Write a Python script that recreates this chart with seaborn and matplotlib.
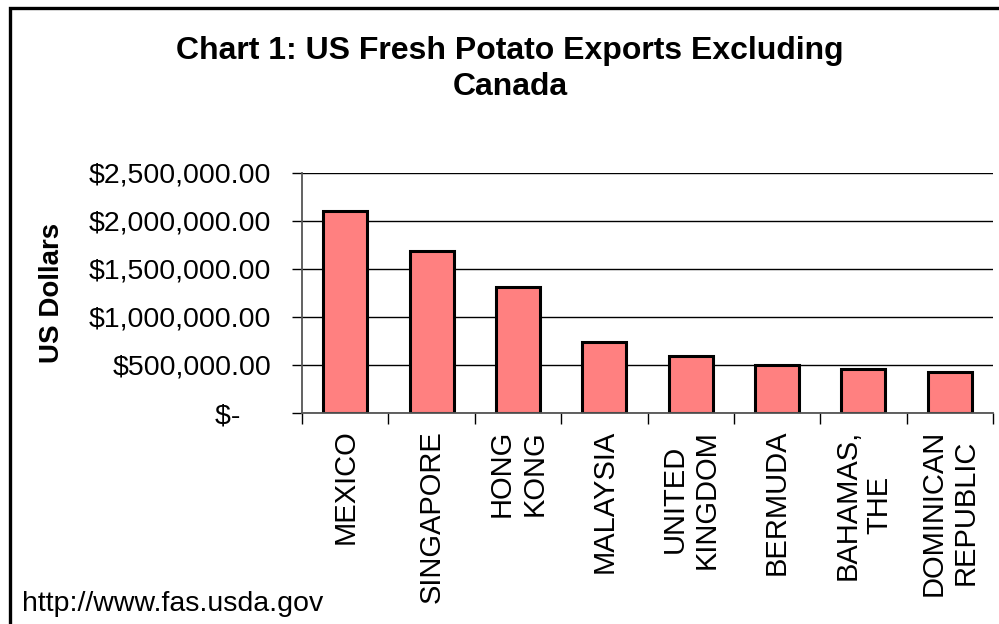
import matplotlib
matplotlib.use("Agg")
import matplotlib.pyplot as plt
import seaborn as sns
import pandas as pd
from matplotlib.patches import Rectangle

countries = ["MEXICO", "SINGAPORE", "HONG\nKONG", "MALAYSIA", "UNITED\nKINGDOM",
             "BERMUDA", "BAHAMAS,\nTHE", "DOMINICAN\nREPUBLIC"]
values = [2100000, 1686000, 1307000, 741000, 593000, 500000, 462000, 428000]
ytick_values = [0, 500000, 1000000, 1500000, 2000000, 2500000]
ytick_labels = ["$-    ", "$500,000.00", "$1,000,000.00", "$1,500,000.00",
                "$2,000,000.00", "$2,500,000.00"]
title = "Chart 1: US Fresh Potato Exports Excluding\nCanada"
ylabel = "US Dollars"
source = "http://www.fas.usda.gov"

sns.set_theme(style="white")
plt.rcParams['font.family'] = ['Liberation Sans', 'DejaVu Sans']
plt.rcParams['text.color'] = 'black'
plt.rcParams['xtick.color'] = 'black'
plt.rcParams['ytick.color'] = 'black'
plt.rcParams['xtick.labelcolor'] = 'black'
plt.rcParams['ytick.labelcolor'] = 'black'

W, H = 999, 624
fig = plt.figure(figsize=(W / 100, H / 100), dpi=100)
L, R, T, B = 302, 993, 172.5, 413
ax = fig.add_axes([L / W, 1 - B / H, (R - L) / W, (B - T) / H])

df = pd.DataFrame({"country": countries, "value": values})
sns.barplot(data=df, x="country", y="value", ax=ax, color="#FF8080",
            saturation=1, width=0.51, edgecolor="black", linewidth=2.2)

ax.set_xlim(-0.5, len(countries) - 0.5)
ax.set_ylim(0, 2500000)
ax.set_yticks(ytick_values)
ax.set_yticklabels(ytick_labels, fontsize=20.5)
ax.yaxis.grid(True, color="black", linewidth=1)
ax.set_axisbelow(True)
ax.set_xlabel("")
ax.set_ylabel("")

ax.set_xticks(range(len(countries)))
ax.set_xticklabels(countries, rotation=90, fontsize=21, ha="center", va="top",
                   multialignment="center")
ax.set_xticks([i - 0.5 for i in range(len(countries) + 1)], minor=True)
ax.tick_params(axis="x", which="major", length=0, pad=12)
ax.tick_params(axis="x", which="minor", length=8, width=1, color="black", direction="out", bottom=True)
ax.tick_params(axis="y", which="major", length=7, width=1, color="black", direction="out", left=True, pad=15)

for s in ["top", "right"]:
    ax.spines[s].set_visible(False)
for s in ["left", "bottom"]:
    ax.spines[s].set_color("#555555")
    ax.spines[s].set_linewidth(1.3)

fig.text(510 / W, 1 - 69 / H, title, ha="center", va="center", fontsize=23,
         fontweight="bold", linespacing=1.3, color="black")
fig.text(52 / W, 1 - 293 / H, ylabel, ha="center", va="center", rotation=90,
         fontsize=20, fontweight="bold", color="black")
fig.text(22 / W, 1 - 604 / H, source, ha="left", va="center", fontsize=20.5, color="black")

fig.patches.append(Rectangle((9.5 / W, -0.1), 1.2, 1 - 7.5 / H + 0.1,
                             transform=fig.transFigure, fill=False,
                             edgecolor="black", linewidth=2.4))

fig.savefig("out.png", dpi=100)
